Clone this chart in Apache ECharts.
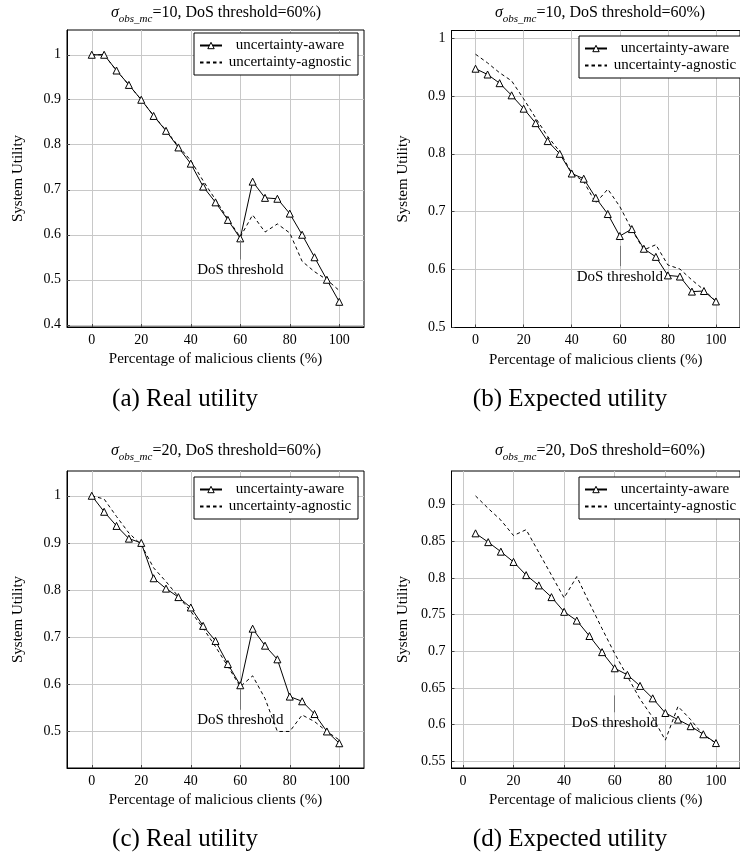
<!DOCTYPE html>
<html><head><meta charset="utf-8">
<script src="https://cdn.jsdelivr.net/npm/echarts@6/dist/echarts.min.js"></script>
<style>html,body{margin:0;padding:0;background:#fff}#c{width:740px;height:853px}</style>
</head><body><div id="c"></div>
<script>
// ---- data ----
const xPct = [0,5,10,15,20,25,30,35,40,45,50,55,60,65,70,75,80,85,90,95,100];
const xPctD = [5,10,15,20,25,30,35,40,45,50,55,60,65,70,75,80,85,90,95,100];
const xTicks = [0,20,40,60,80,100];

const aAware    = [1.0,1.0,0.965,0.933,0.9,0.864,0.831,0.794,0.758,0.707,0.672,0.633,0.592,0.718,0.682,0.680,0.647,0.6,0.55,0.5,0.451];
const aAgnostic = [1.0,1.0,0.965,0.933,0.9,0.865,0.832,0.797,0.765,0.72,0.678,0.635,0.595,0.644,0.606,0.624,0.604,0.541,0.518,0.5,0.476];

const bAware    = [0.947,0.937,0.922,0.901,0.878,0.853,0.822,0.800,0.766,0.757,0.724,0.696,0.658,0.670,0.636,0.622,0.590,0.588,0.562,0.563,0.545];
const bAgnostic = [0.972,0.957,0.940,0.926,0.895,0.862,0.830,0.804,0.767,0.752,0.715,0.739,0.709,0.669,0.634,0.643,0.608,0.601,0.582,0.565,0.545];

const cAware    = [1.0,0.966,0.936,0.909,0.900,0.825,0.803,0.785,0.763,0.724,0.692,0.643,0.598,0.718,0.682,0.653,0.574,0.564,0.537,0.5,0.475];
const cAgnostic = [1.0,0.993,0.956,0.921,0.896,0.847,0.818,0.786,0.755,0.719,0.680,0.638,0.595,0.618,0.570,0.500,0.500,0.535,0.521,0.500,0.482];

const dAware    = [0.861,0.849,0.836,0.822,0.804,0.790,0.774,0.754,0.742,0.721,0.699,0.677,0.668,0.653,0.636,0.616,0.607,0.598,0.587,0.575];
const dAgnostic = [0.912,0.895,0.879,0.858,0.866,0.835,0.804,0.773,0.802,0.766,0.731,0.697,0.666,0.635,0.610,0.579,0.625,0.607,0.586,0.575];

const yTicksA = [0.4,0.5,0.6,0.7,0.8,0.9,1];
const yTicksB = [0.5,0.6,0.7,0.8,0.9,1];
const yTicksC = [0.5,0.6,0.7,0.8,0.9,1];
const yTicksD = [0.55,0.6,0.65,0.7,0.75,0.8,0.85,0.9];

const seriesNames = ['uncertainty-aware','uncertainty-agnostic'];
const pinLabel = 'DoS threshold';
const titles = ['10','10','20','20'];
const captions = ['(a) Real utility','(b) Expected utility','(c) Real utility','(d) Expected utility'];
const yName = 'System Utility';
const xName = 'Percentage of malicious clients (%)';

// ---- layout ----
const FONT = 'Liberation Serif';
const panels = [
  {left:67, top:30, xmin:-10, xmax:110, ymin:0.395, ymax:1.055, yt:yTicksA, x:xPct, aw:aAware, ag:aAgnostic, pin:[0.588,0.545], lg:[194,33], tt:[216,5], cap:[185,387]},
  {left:451.5, top:30.5, xmin:-10, xmax:110, ymin:0.5, ymax:1.013, yt:yTicksB, x:xPct, aw:bAware, ag:bAgnostic, pin:[0.641,0.606], lg:[579,36], tt:[600,5], cap:[570,387]},
  {left:67, top:471, xmin:-10, xmax:110, ymin:0.4225, ymax:1.0525, yt:yTicksC, x:xPct, aw:cAware, ag:cAgnostic, pin:[0.59,0.546], lg:[194,477], tt:[216,443], cap:[185,827]},
  {left:451.5, top:471, xmin:-4.5, xmax:109.5, ymin:0.541, ymax:0.946, yt:yTicksD, x:xPctD, aw:dAware, ag:dAgnostic, pin:[0.640,0.617], lg:[579,477], tt:[600,443], cap:[570,827]}
];
const W = 297, H = 297;

const grid = [], xAxis = [], yAxis = [], series = [], legend = [], title = [];
panels.forEach((p, i) => {
  grid.push({left:p.left, top:p.top, width:W, height:H, show:true, borderColor:'#000', borderWidth:1, backgroundColor:'transparent'});
  xAxis.push({
    type:'value', gridIndex:i, min:p.xmin, max:p.xmax,
    name:xName, nameLocation:'middle', nameGap:25,
    nameTextStyle:{fontFamily:FONT, fontSize:15, color:'#000'},
    axisLine:{show:true, onZero:false, lineStyle:{color:'#000', width:1}},
    axisTick:{show:true, inside:true, length:3, customValues:xTicks, lineStyle:{color:'#444'}},
    axisLabel:{customValues:xTicks, fontFamily:FONT, fontSize:14, color:'#000', margin:6},
    splitLine:{show:true, lineStyle:{color:'#c8c8c8', width:1}}
  });
  yAxis.push({
    type:'value', gridIndex:i, min:p.ymin, max:p.ymax,
    name:yName, nameLocation:'middle', nameGap:41,
    nameTextStyle:{fontFamily:FONT, fontSize:15, color:'#000'},
    axisLine:{show:true, onZero:false, lineStyle:{color:'#000', width:1}},
    axisTick:{show:true, inside:true, length:3, customValues:p.yt, lineStyle:{color:'#444'}},
    axisLabel:{customValues:p.yt, fontFamily:FONT, fontSize:14, color:'#000', margin:6},
    splitLine:{show:true, lineStyle:{color:'#c8c8c8', width:1}}
  });
  series.push({
    name:seriesNames[1], type:'line', xAxisIndex:i, yAxisIndex:i,
    data:p.x.map((v,j)=>[v,p.ag[j]]), symbol:'none',
    lineStyle:{color:'#000', width:1, type:[3.5,3]}, itemStyle:{color:'#000'}, z:2,
    emphasis:{disabled:true}
  });
  series.push({
    name:seriesNames[0], type:'line', xAxisIndex:i, yAxisIndex:i,
    data:p.x.map((v,j)=>[v,p.aw[j]]), symbol:'triangle', symbolSize:7,
    lineStyle:{color:'#000', width:1}, itemStyle:{color:'#fff', borderColor:'#000', borderWidth:1}, z:3,
    emphasis:{disabled:true},
    markLine:{
      silent:true, symbol:['none','none'], animation:false,
      lineStyle:{color:'#777', width:1, type:'solid'},
      label:{show:true, position:'end', distance:3, formatter:pinLabel, fontFamily:FONT, fontSize:15, color:'#000'},
      data:[[{coord:[60,p.pin[0]]},{coord:[60,p.pin[1]]}]]
    }
  });
  legend.push({
    data:[
      {name:seriesNames[0], itemStyle:{color:'#fff', borderColor:'#000', borderWidth:1}},
      {name:seriesNames[1], itemStyle:{opacity:0}}
    ],
    orient:'vertical', left:p.lg[0], top:p.lg[1],
    padding:[5,5,5,5], itemGap:2, itemWidth:22, itemHeight:8,
    borderColor:'#000', borderWidth:1, backgroundColor:'#fff', borderRadius:0,
    selectedMode:false,
    formatter:'{c|{name}}',
    textStyle:{fontFamily:FONT, fontSize:15, color:'#000', rich:{c:{width:126, align:'center', lineHeight:15, fontFamily:FONT, fontSize:15}}}
  });
  title.push({
    text:'{s|σ}{sub|obs_mc}{n|=' + titles[i] + ', DoS threshold=60%)}',
    left:p.tt[0], top:p.tt[1], textAlign:'center', padding:0,
    textStyle:{fontWeight:'normal', rich:{
      s:{fontFamily:FONT, fontStyle:'italic', fontWeight:'normal', fontSize:16, lineHeight:18, verticalAlign:'top', color:'#000'},
      sub:{fontFamily:FONT, fontStyle:'italic', fontWeight:'normal', fontSize:11, lineHeight:10, padding:[9,0,0,0], verticalAlign:'top', color:'#000'},
      n:{fontFamily:FONT, fontWeight:'normal', fontSize:16, lineHeight:18, verticalAlign:'top', color:'#000'}
    }}
  });
  title.push({
    text:captions[i], left:p.cap[0], top:p.cap[1], textAlign:'center', padding:0,
    textStyle:{fontFamily:FONT, fontSize:25, fontWeight:'normal', color:'#000'}
  });
});

const chart = echarts.init(document.getElementById('c'));
chart.setOption({
  animation:false,
  backgroundColor:'#fff',
  textStyle:{fontFamily:FONT},
  title, grid, xAxis, yAxis, series, legend
});
</script>
</body></html>
